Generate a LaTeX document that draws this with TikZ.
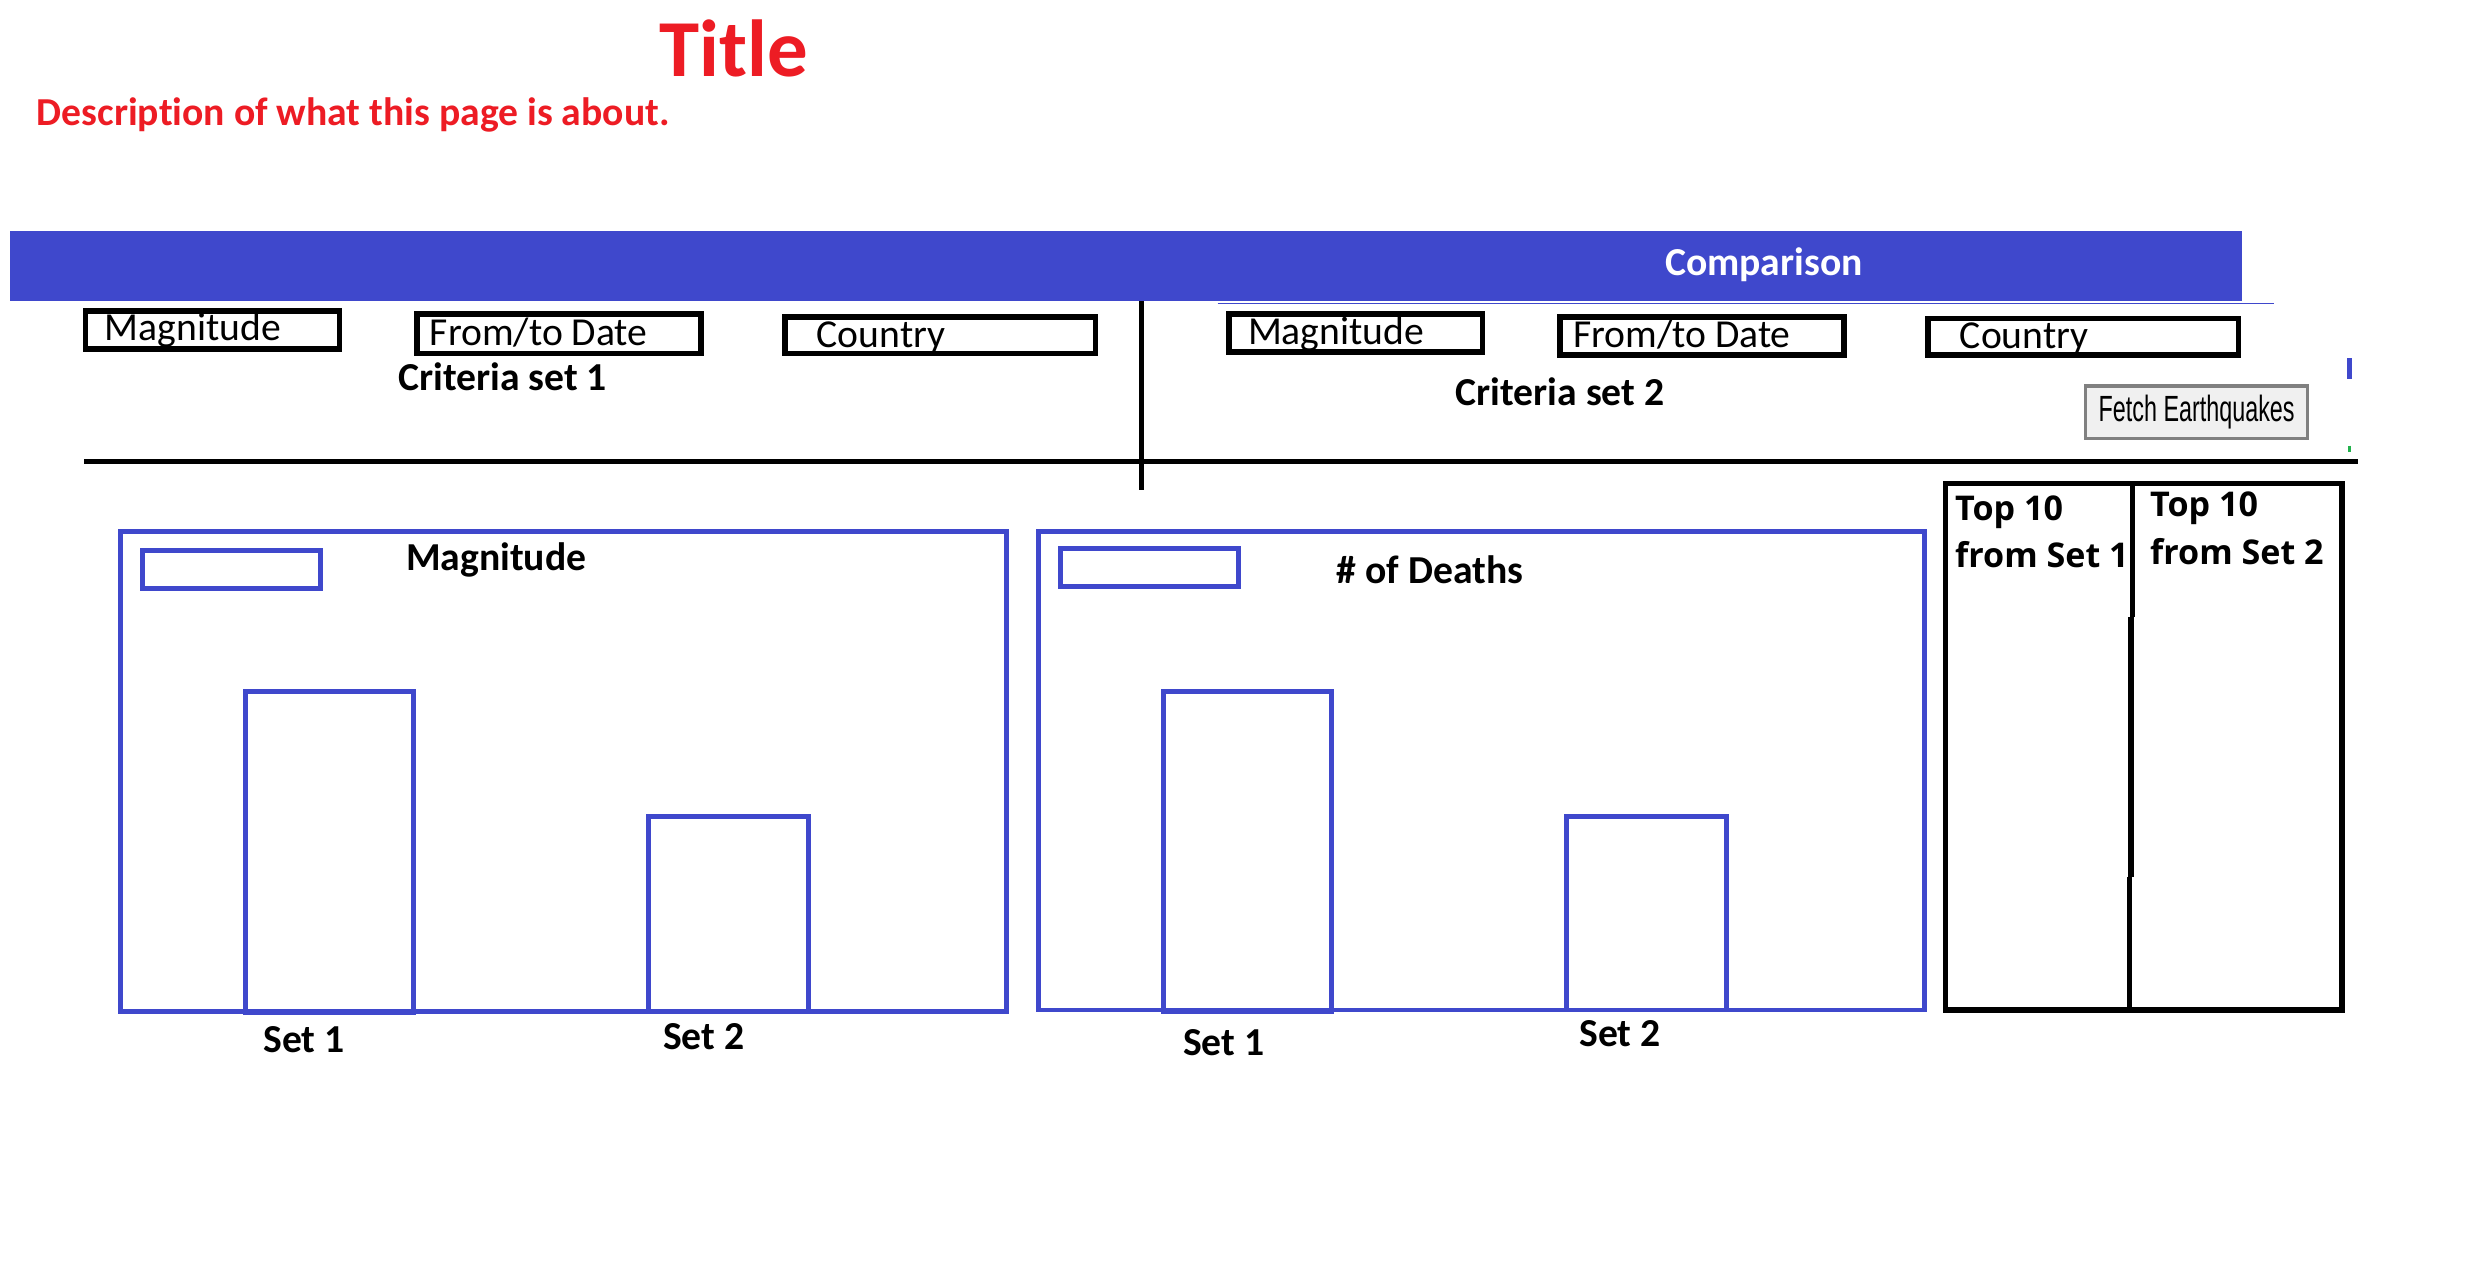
\documentclass[tikz,border=0pt]{standalone}
\usepackage{graphicx}
\usepackage{fontspec}
\setmainfont{Carlito}[Ligatures=NoCommon]
\newfontfamily\topfont{Open Sans}
\newfontfamily\btnfont{Liberation Sans}
\usetikzlibrary{positioning}
\definecolor{paintblue}{RGB}{63,72,204}
\definecolor{paintred}{RGB}{237,28,36}
\definecolor{paintgreen}{RGB}{34,177,76}
\definecolor{btnfill}{RGB}{240,240,240}
\definecolor{btnedge}{RGB}{128,128,128}

\begin{document}
\begin{tikzpicture}[x=1pt,y=-1pt,
  inbox/.style={draw=black,line width=3.5pt},
  chartbox/.style={draw=paintblue,line width=3pt},
  intext/.style={font=\fontsize{25}{25}\selectfont,inner sep=0pt,anchor=base west},
  lbl/.style={font=\fontsize{25}{25}\selectfont\bfseries,inner sep=0pt,anchor=base west},
  toptext/.style={font=\topfont\fontsize{21.5}{21.5}\selectfont\bfseries,inner sep=0pt,anchor=base west}]
% page is 1568 x 802 units, y runs down
\useasboundingbox (0,0) rectangle (1568,802);
\fill[white] (0,0) rectangle (1568,802);

% heading
\node[lbl,text=paintred,font=\fontsize{51}{51}\selectfont\bfseries] (title) at (416,48) {Title};
\node[lbl,text=paintred] (descr) at (23,79) {Description of what this page is about.};

% banner
\fill[paintblue] (6,146) rectangle (1414,190);
\draw[paintblue,line width=1pt] (768,191.5) -- (1434,191.5);
\node[lbl] (banner) at (1050,174) {\textcolor{white}{Comparison}};

% the two sets of criteria
\newcommand{\fieldbox}[7]{%
  \draw[inbox] (#2,#3) rectangle (#4,#5);
  \coordinate (#1) at (#6,#7);}
\fieldbox{mag1}{54}{196}{214}{220}{66}{215}
\fieldbox{date1}{263}{198}{442}{223}{271}{218}
\fieldbox{ctry1}{495}{200}{691}{223}{515}{219}
\fieldbox{mag2}{775}{198}{935}{222}{787}{217}
\fieldbox{date2}{984}{200}{1163}{224}{992}{219}
\fieldbox{ctry2}{1216}{201}{1412}{224}{1236}{220}
\foreach \n/\t in {mag1/Magnitude,date1/{From/to Date},ctry1/Country,
                   mag2/Magnitude,date2/{From/to Date},ctry2/Country}{
  \node[intext] (\n t) at (\n) {\t};}
\node[lbl] (crit1) at (251,246) {Criteria set 1};
\node[lbl] (crit2) at (918,256) {Criteria set 2};

\node[draw=btnedge,fill=btnfill,line width=2pt,minimum width=140pt,minimum height=33pt,inner sep=0pt]
  (fetch) at (1385.5,260) {\scalebox{0.64}[1]{\btnfont\fontsize{23}{23}\selectfont Fetch Earthquakes}};
\draw[paintblue,line width=3pt] (1482,226) -- (1482,239);
\draw[paintgreen,line width=2pt] (1482,281) -- (1482,285);

% rules
\draw[line width=3pt] (720,190) -- (720,309);
\draw[line width=3.5pt] (53,291) -- (1487,291);

% charts
\newcommand{\chartbar}[4]{\draw[chartbox] (#1,#2) rectangle (#3,#4);}
\chartbar{76}{335}{635}{638}   \chartbar{90}{347}{202}{371}
\chartbar{155}{436}{261}{639}  \chartbar{409}{515}{510}{638}
\chartbar{655}{335}{1214}{637} \chartbar{669}{346}{781}{370}
\chartbar{734}{436}{840}{638}  \chartbar{988}{515}{1089}{637}
\node[lbl] (magchart) at (256,360) {Magnitude};
\node[lbl] (deathchart) at (843,368) {\# of Deaths};
\foreach \n/\x/\y/\t in {s1a/166/664/Set 1,s2a/418/662/Set 2,
                         s1b/746/666/Set 1,s2b/996/660/Set 2}{
  \node[lbl] (\n) at (\x,\y) {\t};}

% top ten table
\draw[inbox] (1227,305) rectangle (1477,637);
\draw[line width=3.5pt] (1345,305) -- (1345,389) (1344,389) -- (1344,553) (1343,553) -- (1343,637);
\node[toptext] (topa) at (1233,328) {Top 10};
\node[toptext] (froma) at (1233,358) {from Set 1};
\node[toptext] (topb) at (1356,326) {Top 10};
\node[toptext] (fromb) at (1356,356) {from Set 2};
\end{tikzpicture}
\end{document}
